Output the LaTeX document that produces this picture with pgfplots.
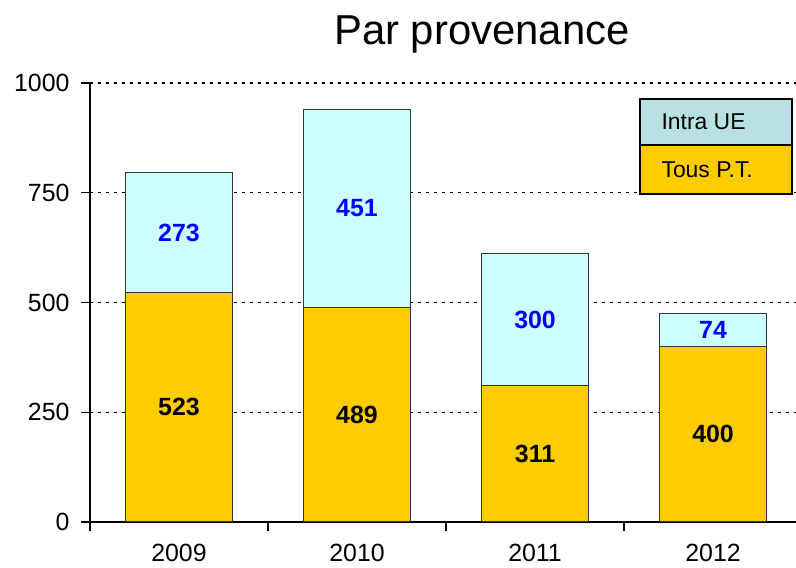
\documentclass[border=0pt]{standalone}
\usepackage{pgfplots}
\pgfplotsset{compat=1.18}
\usepackage{fontspec}
\setmainfont{Liberation Sans}
\definecolor{cyanbar}{HTML}{CCFFFF}
\definecolor{goldbar}{HTML}{FFCC00}
\definecolor{legcyan}{HTML}{B9E0E3}
\definecolor{labblue}{HTML}{0000FF}
\pgfplotsset{
  commonax/.style={
    at={(0,0)}, anchor=south west,
    scale only axis, width=706bp, height=439bp,
    enlarge x limits=false, enlarge y limits=false,
    xmin=-0.5, xmax=3.466, ymin=0, ymax=1000,
  }
}
\begin{document}
\begin{tikzpicture}[x=1bp,y=1bp]
\useasboundingbox (-90,-46) rectangle (706,522);
\begin{axis}[
  commonax,
  ybar stacked, bar width=0.6,
  axis x line*=bottom, axis y line*=left,
  axis line style={line width=1.6bp, black},
  tick align=outside, major tick length=9bp,
  tick style={line width=1.2bp, black},
  xtick={-0.5,0.5,1.5,2.5}, xticklabels={,,,,},
  extra x ticks={0,1,2,3},
  extra x tick labels={2009,2010,2011,2012},
  extra x tick style={major tick length=0pt,
    xticklabel style={inner sep=0pt, anchor=north, yshift=-22bp}},
  xticklabel style={font=\fontsize{25}{28}\selectfont},
  ytick={0,250,500,750,1000},
  yticklabel style={font=\fontsize{25}{28}\selectfont, xshift=-8bp},
  /pgf/number format/assume math mode=true,
  /pgf/number format/1000 sep={},
  ymajorgrids,
  major grid style={black, line width=1.3bp, dash pattern=on 3bp off 5bp},
]
\addplot[fill=goldbar, draw=black!80, line width=1bp]
  coordinates {(0,523) (1,489) (2,311) (3,400)};
\addplot[fill=cyanbar, draw=black!80, line width=1bp]
  coordinates {(0,273) (1,451) (2,300) (3,74)};
\end{axis}
\begin{axis}[commonax, hide axis]
\addplot[draw=none, mark=none, nodes near coords, point meta=explicit symbolic,
  nodes near coords style={anchor=center,
    font=\fontsize{25}{27}\selectfont\bfseries, text=black}]
  coordinates {(0,261.5)[523] (1,244.5)[489] (2,155.5)[311] (3,200)[400]};
\addplot[draw=none, mark=none, nodes near coords, point meta=explicit symbolic,
  nodes near coords style={anchor=center,
    font=\fontsize{25}{27}\selectfont\bfseries, text=labblue}]
  coordinates {(0,659.5)[273] (1,714.5)[451] (2,461)[300] (3,437)[74]};
\end{axis}
\draw[line width=1.5bp, fill=legcyan] (550,377) rectangle (702,423);
\draw[line width=1.5bp, fill=goldbar] (550,328) rectangle (702,377);
\node[anchor=west, font=\fontsize{23}{26}\selectfont] at (568,400) {Intra UE};
\node[anchor=west, font=\fontsize{23}{26}\selectfont] at (568,352) {Tous P.T.};
\node[font=\fontsize{42}{46}\selectfont] at (392,488) {Par provenance};
\end{tikzpicture}
\end{document}
